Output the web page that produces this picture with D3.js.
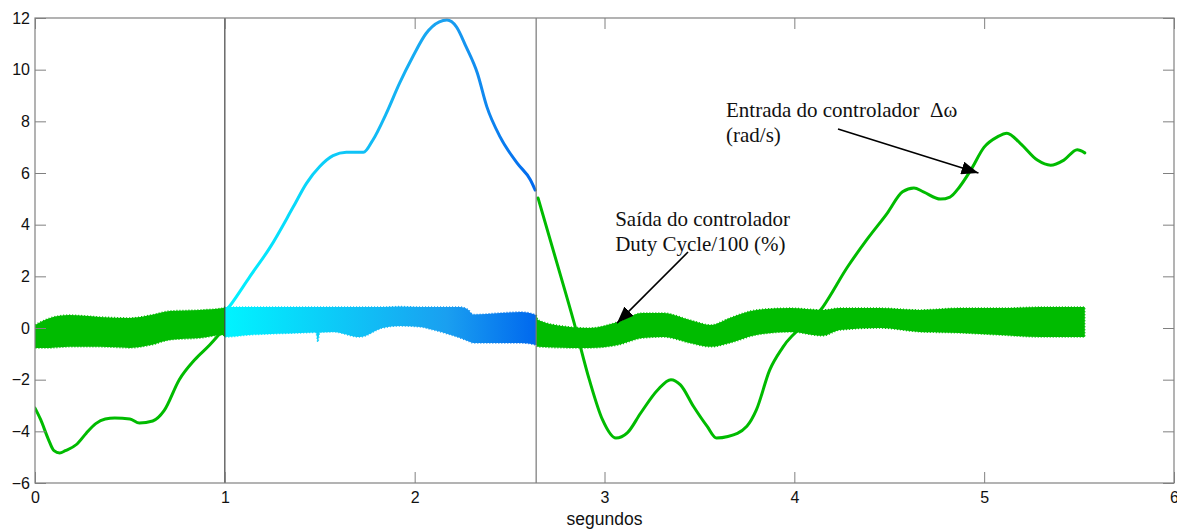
<!DOCTYPE html>
<html><head><meta charset="utf-8">
<script src="https://cdn.jsdelivr.net/npm/d3@7"></script>
<style>body{margin:0;background:#fff;}svg{display:block;}</style>
</head><body>
<svg id="chart" width="1177" height="529"></svg>
<script>
// ---- data ----
const xTicks = [0, 1, 2, 3, 4, 5, 6];
const yTicks = [-6, -4, -2, 0, 2, 4, 6, 8, 10, 12];
const xLabel = "segundos";
const switchTimes = [1.0, 2.64];

// controller input Δω (rad/s), three recorded pieces
const inputT1 = [0,0.03,0.07,0.10,0.13,0.16,0.22,0.27,0.32,0.37,0.42,0.50,0.55,0.62,0.68,0.76,0.84,0.92,0.99];
const inputV1 = [-3.1,-3.55,-4.3,-4.75,-4.84,-4.75,-4.5,-4.07,-3.7,-3.52,-3.48,-3.52,-3.68,-3.6,-3.2,-2.0,-1.24,-0.66,-0.08];
const inputT2 = [1.0,1.03,1.13,1.24,1.36,1.43,1.50,1.57,1.64,1.73,1.78,1.85,1.92,1.99,2.06,2.13,2.17,2.22,2.27,2.33,2.38,2.45,2.54,2.61,2.635];
const inputV2 = [0.6,0.89,1.97,3.14,4.68,5.6,6.25,6.67,6.8,6.8,7.28,8.3,9.47,10.5,11.4,11.85,11.92,11.66,10.9,9.87,8.57,7.4,6.38,5.73,5.34];
const inputT3 = [2.65,2.75,2.84,2.92,2.99,3.06,3.12,3.19,3.28,3.35,3.40,3.47,3.54,3.59,3.65,3.75,3.80,3.87,3.94,4.15,4.28,4.38,4.49,4.57,4.63,4.68,4.77,4.82,4.87,4.93,5.00,5.07,5.12,5.19,5.28,5.35,5.42,5.49,5.53];
const inputV3 = [5.03,2.5,0.2,-2.0,-3.56,-4.26,-4.06,-3.3,-2.4,-2.0,-2.2,-3.05,-3.8,-4.26,-4.2,-3.8,-3.17,-1.63,-0.74,0.81,2.36,3.4,4.45,5.27,5.42,5.27,4.99,5.07,5.46,6.12,7.0,7.4,7.54,7.15,6.5,6.3,6.5,6.9,6.78];

// controller output (duty cycle/100) – envelope of the switching band
const bandT     = [0,0.08,0.18,0.34,0.50,0.61,0.71,0.87,0.99,1.00,1.13,1.40,1.48,1.49,1.50,1.57,1.71,1.83,1.92,2.03,2.10,2.24,2.28,2.31,2.45,2.56,2.64,2.65,2.82,2.92,3.07,3.20,3.31,3.45,3.56,3.66,3.80,3.98,4.15,4.24,4.45,4.66,4.87,5.08,5.30,5.53];
const bandUpper = [0.12,0.39,0.50,0.43,0.39,0.50,0.66,0.70,0.77,0.81,0.81,0.81,0.81,0.81,0.81,0.81,0.81,0.81,0.83,0.81,0.81,0.81,0.72,0.52,0.58,0.62,0.50,0.31,0.04,0.00,0.23,0.58,0.58,0.31,0.12,0.39,0.70,0.77,0.70,0.77,0.77,0.70,0.77,0.77,0.81,0.81];
const bandLower = [-0.77,-0.77,-0.73,-0.73,-0.77,-0.66,-0.46,-0.39,-0.27,-0.35,-0.27,-0.19,-0.17,-0.54,-0.17,-0.15,-0.35,0.0,0.08,0.04,-0.08,-0.39,-0.50,-0.58,-0.58,-0.58,-0.66,-0.73,-0.77,-0.77,-0.66,-0.39,-0.35,-0.58,-0.73,-0.58,-0.27,-0.15,-0.30,-0.08,0.0,-0.15,-0.19,-0.27,-0.35,-0.35];

const annotations = [
  {lines: ["Entrada do controlador  Δω", "(rad/s)"], at: [3.64, 8.17], from: [4.23, 7.7], to: [4.97, 6.0]},
  {lines: ["Saída do controlador", "Duty Cycle/100 (%)"], at: [3.056, 3.95], from: [3.44, 2.94], to: [3.066, 0.19]}
];

// ---- chart ----
const W = 1177, H = 529;
const m = {left: 35, top: 18, right: 1174, bottom: 483};
const svg = d3.select("#chart");
const x = d3.scaleLinear().domain([0, 6]).range([m.left, m.right]);
const y = d3.scaleLinear().domain([-6, 12]).range([m.bottom, m.top]);

const green = "#00bb00";
const defs = svg.append("defs");
const grad = defs.append("linearGradient").attr("id", "seg").attr("gradientUnits", "userSpaceOnUse")
  .attr("x1", x(0)).attr("x2", x(6)).attr("y1", 0).attr("y2", 0);
const o = v => (x(v) - x(0)) / (x(6) - x(0));
[[0, green], [o(switchTimes[0]), green], [o(switchTimes[0]), "#00f4ff"], [o(2.17), "#1a9ff0"], [o(switchTimes[1]), "#0068ee"], [o(switchTimes[1]), green], [1, green]]
  .forEach(([off, c]) => grad.append("stop").attr("offset", off).attr("stop-color", c));
defs.append("clipPath").attr("id", "clip").append("rect")
  .attr("x", m.left).attr("y", m.top).attr("width", m.right - m.left).attr("height", m.bottom - m.top);

const plot = svg.append("g").attr("clip-path", "url(#clip)");

// band
const band = bandT.map((t, i) => ({t, u: bandUpper[i], l: bandLower[i]}));
plot.append("path").datum(band)
  .attr("d", d3.area().x(d => x(d.t)).y0(d => y(d.l)).y1(d => y(d.u)).curve(d3.curveMonotoneX))
  .attr("fill", "url(#seg)").attr("stroke", "url(#seg)").attr("stroke-width", 1.5)
  .attr("stroke-dasharray", "1 2");

// input line
const line = d3.line().x(d => x(d[0])).y(d => y(d[1])).curve(d3.curveMonotoneX);
[[inputT1, inputV1], [inputT2, inputV2], [inputT3, inputV3]].forEach(([ts, vs]) => {
  plot.append("path").datum(ts.map((t, i) => [t, vs[i]]))
    .attr("d", line).attr("fill", "none").attr("stroke", "url(#seg)")
    .attr("stroke-width", 3).attr("stroke-linejoin", "round").attr("stroke-linecap", "round");
});

// switch markers
svg.selectAll("line.sw").data(switchTimes).enter().append("line")
  .attr("x1", d => x(d)).attr("x2", d => x(d)).attr("y1", m.top).attr("y2", m.bottom)
  .attr("stroke", (d, i) => i === 0 ? "#444" : "#777").attr("stroke-width", 1.2);

// axes
const axisColor = "#808080";
const fontAx = "'Liberation Sans', Arial, sans-serif";
function styleAxis(g) {
  g.select(".domain").remove();
  g.selectAll(".tick line").attr("stroke", axisColor);
  g.selectAll(".tick text").attr("fill", "#111").style("font-family", fontAx).style("font-size", "16px");
}
svg.append("g").attr("transform", `translate(${m.left},0)`)
  .call(d3.axisLeft(y).tickValues(yTicks).tickSize(-11).tickPadding(5).tickFormat(d3.format("d"))).call(styleAxis);
svg.append("g").attr("transform", `translate(${m.right},0)`)
  .call(d3.axisRight(y).tickValues(yTicks).tickSize(-11).tickFormat("")).call(styleAxis);
svg.append("g").attr("transform", `translate(0,${m.bottom})`)
  .call(d3.axisBottom(x).tickValues(xTicks).tickSize(-11).tickPadding(9).tickFormat(d3.format("d"))).call(styleAxis);
svg.append("g").attr("transform", `translate(0,${m.top})`)
  .call(d3.axisTop(x).tickValues(xTicks).tickSize(-11).tickFormat("")).call(styleAxis);
svg.append("rect").attr("x", m.left).attr("y", m.top).attr("width", m.right - m.left).attr("height", m.bottom - m.top)
  .attr("fill", "none").attr("stroke", axisColor).attr("stroke-width", 1.2);

svg.append("text").attr("x", (m.left + m.right) / 2).attr("y", 525).attr("text-anchor", "middle")
  .style("font-family", fontAx).style("font-size", "17.5px").attr("fill", "#111").text(xLabel);

// annotations
defs.append("marker").attr("id", "arrow").attr("viewBox", "0 0 10 10").attr("refX", 10).attr("refY", 5)
  .attr("markerWidth", 17).attr("markerHeight", 13).attr("markerUnits", "userSpaceOnUse").attr("orient", "auto")
  .attr("preserveAspectRatio", "none")
  .append("path").attr("d", "M0,0 L10,5 L0,10 Z").attr("fill", "#000");
annotations.forEach(a => {
  const t = svg.append("text").attr("x", x(a.at[0])).attr("y", y(a.at[1]))
    .style("font-family", "'Liberation Serif', 'Times New Roman', serif").style("font-size", "21px")
    .style("white-space", "pre").attr("fill", "#111");
  a.lines.forEach((s, i) => t.append("tspan").attr("x", x(a.at[0])).attr("dy", i ? 25 : 0).text(s));
  svg.append("line").attr("x1", x(a.from[0])).attr("y1", y(a.from[1])).attr("x2", x(a.to[0])).attr("y2", y(a.to[1]))
    .attr("stroke", "#000").attr("stroke-width", 1.6).attr("marker-end", "url(#arrow)");
});
</script>
</body></html>
